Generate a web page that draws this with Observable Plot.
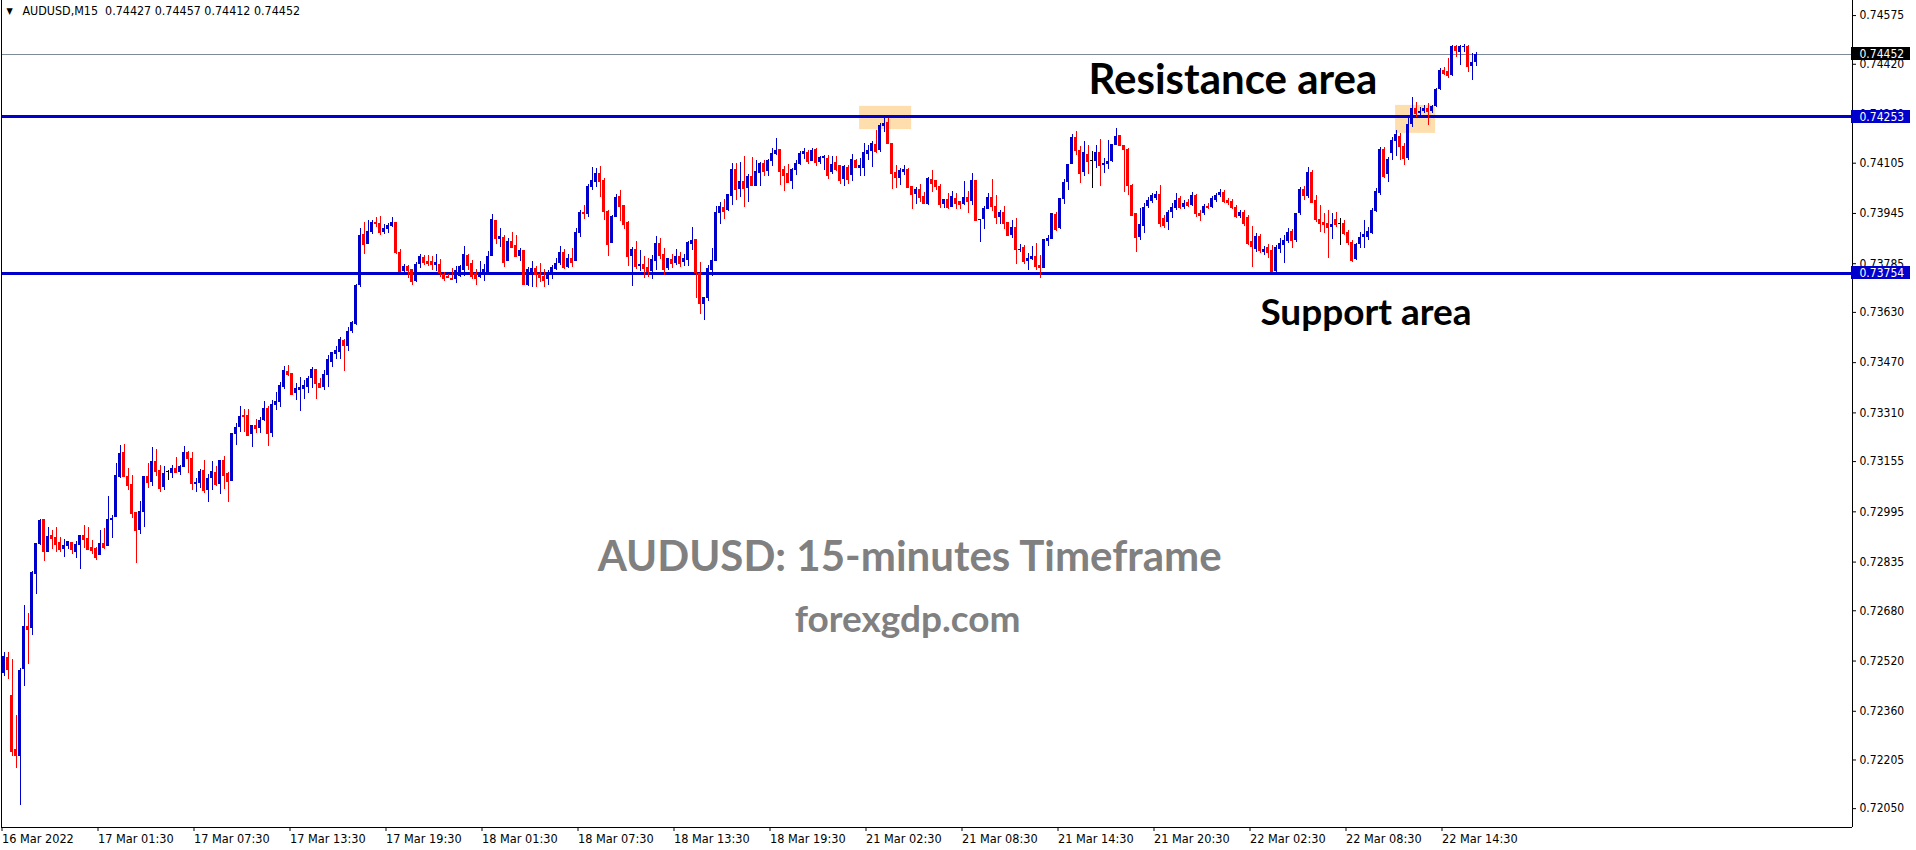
<!DOCTYPE html>
<html>
<head>
<meta charset="utf-8">
<script src="https://cdn.jsdelivr.net/npm/d3@7"></script>
<script src="https://cdn.jsdelivr.net/npm/@observablehq/plot@0.6"></script>
<style>
  html, body { margin: 0; padding: 0; background: #fff; overflow: hidden; }
  #chart svg { display: block; }
</style>
</head>
<body>
<div id="chart"></div>
<script>
// AUDUSD M15 candles, prices in points (price × 100000), oldest first
const open = [
72480,72531,72410,72238,72216,72493,72630,72624,72795,72891,
72970,72866,72919,72913,72898,72875,72885,72898,72866,72888,
72919,72910,72882,72879,72856,72894,72885,72966,72977,73105,
73184,73108,73082,72993,72935,72993,73108,73089,73155,73127,
73073,73124,73117,73133,73121,73136,73184,73165,73082,73085,
73127,73063,73102,73121,73082,73158,73117,73092,73241,73264,
73302,73302,73241,73270,73261,73286,73324,73244,73333,73343,
73391,73442,73435,73371,73381,73384,73391,73420,73448,73403,
73391,73429,73471,73496,73503,73540,73521,73569,73591,73715,
73878,73846,73885,73917,73913,73885,73894,73904,73917,73821,
73760,73776,73766,73728,73782,73805,73792,73792,73779,73782,
73750,73744,73738,73734,73744,73763,73811,73786,73753,73741,
73753,73757,73808,73923,73862,73869,73792,73856,73843,73808,
73827,73715,73757,73770,73750,73744,73734,73750,73766,73786,
73821,73773,73802,73792,73881,73948,73941,74028,74044,74072,
74050,73951,73849,73932,73999,73970,73917,73808,73830,73776,
73782,73773,73760,73792,73849,73814,73770,73798,73786,73808,
73789,73795,73846,73862,73753,73655,73674,73763,73792,73944,
73964,73954,73999,74085,74021,74047,74025,74063,74031,74072,
74104,74079,74111,74132,74148,74085,74072,74047,74082,74101,
74132,74139,74111,74148,74108,74120,74120,74076,74108,74098,
74053,74092,74066,74114,74089,74089,74132,74142,74164,74145,
74222,74235,74167,74076,74057,74076,74085,74031,74005,74021,
73999,73973,74053,74050,74031,73973,73989,73964,73993,73983,
73973,73996,73983,74050,73923,73925,73958,73996,73967,73932,
73948,73917,73875,73901,73827,73837,73792,73798,73808,73779,
73770,73856,73862,73941,73898,73989,74044,74101,74187,74145,
74076,74132,74114,74111,74139,74098,74101,74111,74161,74193,
74161,74148,74034,73944,73869,73904,73967,73983,73993,74005,
73929,73917,73948,73961,73993,73964,73980,73970,74002,73944,
73944,73967,73964,73986,74002,74012,73986,73983,73964,73935,
73948,73932,73856,73830,73872,73821,73837,73827,73760,73830,
73843,73856,73888,73859,73944,74021,73999,74076,73986,73925,
73917,73913,73901,73925,73913,73913,73885,73853,73798,73846,
73869,73869,73881,73951,74009,74148,74069,74136,74174,74190,
74158,74120,74228,74280,74264,74270,74280,74270,74286,74340,
74400,74397,74384,74477,74458,74473,74477,74413,74427];
const high = [
72547,72547,72524,72347,72497,72697,72671,72805,72894,72970,
72970,72944,72937,72944,72913,72906,72901,72898,72901,72919,
72950,72944,72904,72882,72935,72941,73044,72983,73148,73206,
73209,73133,73111,72993,73028,73108,73148,73200,73193,73142,
73139,73127,73142,73168,73142,73203,73187,73184,73102,73129,
73158,73114,73155,73139,73158,73171,73121,73244,73276,73330,
73320,73320,73270,73289,73296,73346,73330,73349,73375,73407,
73458,73461,73435,73403,73423,73413,73426,73455,73448,73420,
73445,73493,73503,73521,73550,73543,73582,73601,73718,73898,
73917,73923,73923,73932,73935,73910,73913,73932,73917,73830,
73782,73779,73766,73789,73814,73811,73811,73808,73814,73798,
73757,73750,73770,73776,73779,73840,73814,73795,73766,73792,
73782,73824,73941,73923,73898,73875,73866,73885,73875,73834,
73827,73773,73792,73776,73786,73766,73763,73779,73802,73840,
73830,73814,73834,73898,73954,73970,74037,74092,74089,74095,
74057,73954,73938,74005,74018,73970,73920,73837,73856,73827,
73808,73802,73811,73872,73866,73834,73802,73814,73830,73821,
73814,73856,73901,73862,73789,73677,73779,73834,73967,73980,
73989,74005,74104,74104,74108,74126,74069,74123,74114,74108,
74114,74117,74152,74184,74148,74095,74101,74089,74114,74142,
74152,74145,74152,74152,74126,74129,74129,74126,74126,74098,
74098,74098,74132,74117,74120,74167,74161,74174,74209,74231,
74248,74248,74167,74098,74089,74098,74089,74031,74028,74037,
74012,74060,74082,74050,74037,73989,74009,74015,74009,73983,
74047,74015,74072,74050,73925,73967,74009,74053,74002,73954,
73967,73917,73923,73929,73846,73843,73818,73840,73849,73811,
73862,73875,73944,73948,73993,74053,74101,74196,74206,74158,
74174,74161,74142,74161,74180,74120,74177,74164,74216,74193,
74161,74152,74037,73944,73961,73976,73996,74009,74015,74034,
73938,73954,73976,74009,73999,73986,73989,74012,74005,73954,
73973,73976,73999,74009,74021,74018,73993,73989,73970,73954,
73954,73938,73904,73881,73878,73840,73846,73843,73843,73866,
73875,73898,73894,73944,74028,74031,74092,74082,74002,73970,
73944,73954,73944,73948,73929,73923,73891,73859,73849,73885,
73923,73901,73961,74025,74155,74155,74123,74187,74209,74199,
74167,74248,74314,74299,74283,74289,74296,74289,74343,74407,
74410,74438,74480,74480,74480,74483,74480,74454,74457];
const low = [
72471,72461,72216,72178,72060,72439,72509,72601,72731,72888,
72837,72866,72875,72866,72866,72850,72875,72859,72847,72811,
72879,72872,72859,72840,72856,72875,72885,72910,72977,73102,
73108,73063,72974,72830,72922,72944,73070,73076,73108,73057,
73063,73095,73102,73117,73111,73136,73117,73063,73057,73070,
73053,73025,73063,73076,73050,73066,73025,73092,73206,73248,
73248,73238,73200,73244,73244,73283,73203,73232,73318,73327,
73384,73426,73368,73349,73315,73352,73371,73388,73352,73388,
73381,73391,73455,73480,73480,73442,73506,73562,73588,73709,
73814,73846,73878,73901,73875,73878,73881,73901,73814,73757,
73757,73738,73715,73725,73770,73779,73776,73763,73760,73741,
73728,73738,73734,73721,73741,73744,73763,73734,73715,73738,
73728,73757,73808,73846,73837,73773,73792,73834,73805,73792,
73715,73712,73709,73709,73725,73709,73715,73734,73763,73779,
73766,73770,73773,73792,73869,73925,73932,74018,74028,73996,
73923,73808,73849,73932,73920,73894,73776,73712,73766,73760,
73738,73741,73734,73763,73798,73747,73763,73770,73779,73773,
73776,73776,73827,73674,73623,73604,73665,73744,73792,73910,
73925,73951,73970,73986,73996,73964,73980,74031,74031,74031,
74063,74063,74095,74129,74034,74015,74044,74021,74066,74098,
74117,74101,74111,74095,74101,74082,74053,74069,74079,74037,
74031,74037,74047,74089,74063,74063,74114,74092,74136,74139,
74203,74167,74021,74025,74034,74066,74028,73958,73973,73980,
73973,73970,74012,74018,73961,73961,73958,73964,73958,73958,
73970,73944,73970,73923,73853,73894,73958,73951,73910,73910,
73894,73875,73866,73782,73821,73782,73763,73795,73763,73738,
73770,73840,73862,73888,73894,73973,74018,74101,74129,74041,
74063,74069,74025,74089,74031,74072,74085,74108,74161,74158,
74012,74002,73938,73821,73859,73881,73961,73976,73986,73901,
73898,73891,73929,73954,73958,73958,73964,73967,73932,73920,
73938,73958,73961,73980,73996,73976,73970,73958,73929,73929,
73904,73843,73773,73821,73818,73811,73802,73757,73753,73818,
73786,73849,73834,73853,73938,73986,73993,73976,73917,73885,
73881,73802,73862,73901,73843,73875,73843,73789,73795,73834,
73834,73859,73878,73948,74002,74057,74044,74114,74126,74114,
74098,74114,74219,74251,74257,74264,74225,74264,74283,74336,
74384,74375,74381,74442,74416,74458,74394,74368,74412];
const close = [
72534,72493,72232,72219,72490,72630,72620,72802,72894,72966,
72869,72916,72910,72891,72875,72888,72901,72875,72891,72919,
72906,72875,72872,72850,72894,72882,72970,72974,73111,73180,
73108,73079,72989,72935,72996,73108,73089,73155,73124,73070,
73117,73124,73133,73121,73139,73184,73165,73085,73089,73124,
73063,73102,73124,73082,73158,73111,73092,73244,73264,73299,
73299,73238,73270,73261,73286,73324,73244,73336,73346,73397,
73445,73432,73368,73388,73391,73397,73420,73448,73403,73391,
73432,73480,73503,73509,73543,73524,73569,73598,73715,73875,
73846,73888,73917,73913,73885,73898,73907,73917,73821,73760,
73776,73763,73728,73782,73808,73789,73786,73782,73789,73757,
73738,73741,73734,73763,73776,73814,73779,73744,73738,73753,
73766,73808,73925,73866,73872,73789,73856,73837,73808,73827,
73718,73766,73770,73750,73741,73731,73750,73773,73786,73821,
73773,73802,73789,73885,73948,73944,74031,74050,74072,74047,
73951,73846,73935,73996,73967,73910,73808,73830,73776,73782,
73770,73760,73798,73849,73811,73766,73802,73786,73808,73786,
73802,73853,73859,73757,73658,73677,73770,73795,73948,73967,
73951,74005,74085,74021,74047,74025,74063,74034,74079,74104,
74079,74114,74136,74145,74079,74066,74044,74085,74104,74136,
74142,74111,74145,74108,74123,74126,74066,74101,74085,74050,
74095,74053,74117,74092,74098,74139,74145,74167,74142,74225,
74231,74167,74072,74060,74082,74085,74028,74005,74021,73996,
73976,74057,74041,74031,73973,73989,73964,73999,73976,73973,
73996,73983,74050,73923,73925,73961,73996,73967,73932,73948,
73913,73875,73901,73830,73830,73792,73802,73808,73776,73773,
73862,73866,73944,73894,73993,74044,74101,74187,74145,74072,
74139,74111,74114,74139,74098,74104,74111,74164,74190,74161,
74148,74034,73938,73869,73910,73964,73986,74002,74005,73913,
73907,73948,73964,73986,73964,73976,73970,74002,73944,73938,
73967,73964,73993,74002,74012,73983,73980,73964,73935,73948,
73913,73849,73840,73872,73827,73830,73821,73760,73837,73849,
73859,73885,73859,73944,74021,74002,74076,73980,73925,73913,
73910,73901,73910,73910,73913,73881,73853,73795,73846,73869,
73878,73888,73954,74015,74148,74063,74117,74177,74196,74158,
74120,74228,74280,74264,74270,74280,74270,74286,74340,74400,
74391,74384,74477,74464,74477,74477,74413,74426,74452];

// time-axis labels, one every 24 bars (6 hours)
const timeLabels = ["16 Mar 2022","17 Mar 01:30","17 Mar 07:30","17 Mar 13:30","17 Mar 19:30",
  "18 Mar 01:30","18 Mar 07:30","18 Mar 13:30","18 Mar 19:30","21 Mar 02:30","21 Mar 08:30",
  "21 Mar 14:30","21 Mar 20:30","22 Mar 02:30","22 Mar 08:30","22 Mar 14:30"];
const timeTickBars = [0,24,48,72,96,120,144,168,192,216,240,264,288,312,336,360];
// price-axis labels
const priceTicks = [0.74575,0.74420,0.74260,0.74105,0.73945,0.73785,0.73630,0.73470,0.73310,
  0.73155,0.72995,0.72835,0.72680,0.72520,0.72360,0.72205,0.72050];
// horizontal levels
const resistance = 0.74253;
const support = 0.73754;
// highlighted zones (bar index range, price range)
const zoneBarStart = [213.9, 347.9];
const zoneBarEnd = [226.9, 357.9];
const zoneLow = [0.74212, 0.74200];
const zoneHigh = [0.74286, 0.74289];
// annotations (bar index, price)
const noteText = ["Resistance area", "Support area", "AUDUSD: 15-minutes Timeframe", "forexgdp.com"];
const noteBar = [271.1, 314.1, 226.4, 225.9];
const notePrice = [0.74368, 0.73628, 0.72848, 0.72649];
const noteSize = [42, 37, 42, 37];

// ---------- build ----------
const BLUE = "#0000cd", RED = "#ff0000", BLACK = "#000000";
const candles = open.map((o, i) => ({i, o: o / 1e5, h: high[i] / 1e5, l: low[i] / 1e5, c: close[i] / 1e5}));
const col = d => d.c > d.o ? BLUE : d.c < d.o ? RED : BLACK;
const last = candles[candles.length - 1];
const xDomain = [-0.625, 462.125];
const yDomain = [0.71990, 0.74623];
const zones = zoneBarStart.map((s, k) => ({x1: s, x2: zoneBarEnd[k], y1: zoneLow[k], y2: zoneHigh[k]}));
const boxes = [
  {price: last.c, fill: BLACK},
  {price: resistance, fill: BLUE},
  {price: support, fill: BLUE}
];
const notes = noteText.map((t, k) => ({t, x: noteBar[k], y: notePrice[k], s: noteSize[k]}));
const header = `AUDUSD,M15\u00a0\u00a0${last.o.toFixed(5)} ${last.h.toFixed(5)} ${last.l.toFixed(5)} ${last.c.toFixed(5)}`;
const AX = "'DejaVu Sans Condensed', 'DejaVu Sans', sans-serif";

const chart = Plot.plot({
  width: 1916, height: 850,
  marginLeft: 1, marginRight: 64, marginTop: 0, marginBottom: 23,
  style: {background: "#ffffff", color: "#000000", fontFamily: AX, fontSize: "12px"},
  x: {domain: xDomain, axis: null},
  y: {domain: yDomain, axis: null},
  marks: [
    Plot.rect(zones, {x1: "x1", x2: "x2", y1: "y1", y2: "y2", fill: "#ffdead"}),
    Plot.ruleY([last.c], {stroke: "#7f8a99", strokeWidth: 1, shapeRendering: "crispEdges"}),
    Plot.ruleY([resistance, support], {stroke: BLUE, strokeWidth: 3, shapeRendering: "crispEdges"}),
    // wicks
    Plot.ruleX(candles, {x: "i", y1: d => Math.min(d.l, d.o, d.c), y2: d => Math.max(d.h, d.o, d.c),
      stroke: col, strokeWidth: 1, shapeRendering: "crispEdges"}),
    // bodies
    Plot.rect(candles, {x1: d => d.i - 0.375, x2: d => d.i + 0.375, y1: "o", y2: "c",
      fill: col, shapeRendering: "crispEdges"}),
    Plot.ruleY(candles, {y: "c", x1: d => d.i - 0.375, x2: d => d.i + 0.375,
      stroke: col, strokeWidth: 1, shapeRendering: "crispEdges"}),
    // frame
    Plot.ruleX([xDomain[0], xDomain[1]], {stroke: BLACK, strokeWidth: 1, shapeRendering: "crispEdges"}),
    Plot.ruleY([yDomain[0]], {stroke: BLACK, strokeWidth: 1, shapeRendering: "crispEdges"}),
    // axes
    Plot.axisY({anchor: "right", ticks: priceTicks, tickFormat: d => d.toFixed(5), tickSize: 3,
      tickPadding: 4, label: null, fontSize: 12}),
    Plot.axisX({ticks: timeTickBars, tickFormat: d => timeLabels[timeTickBars.indexOf(d)],
      tickSize: 4, tickPadding: 3, textAnchor: "start", dx: -2, label: null, fontSize: 12.6}),
    // price boxes on the axis
    Plot.rect(boxes, {x1: xDomain[1], x2: xDomain[1], y1: "price", y2: "price", fill: "fill",
      insetLeft: -1, insetRight: -58, insetTop: -6.5, insetBottom: -6.5, shapeRendering: "crispEdges"}),
    Plot.text(boxes, {x: xDomain[1], y: "price", text: d => d.price.toFixed(5), dx: 7,
      textAnchor: "start", fill: "#ffffff", fontSize: 12}),
    // header
    Plot.text(["\u25BC"], {frameAnchor: "top-left", dx: 5, dy: 7, textAnchor: "start", lineAnchor: "top",
      fontSize: 9, fill: BLACK}),
    Plot.text([header], {frameAnchor: "top-left", dx: 21, dy: 6, textAnchor: "start", lineAnchor: "top",
      fontSize: 12.4, fontFamily: AX, fill: BLACK}),
    // annotations
    Plot.text(notes.slice(0, 2), {x: "x", y: "y", text: "t", textAnchor: "start", fontFamily: "Lato",
      fontWeight: "bold", fontSize: d => d.s, fill: BLACK}),
    Plot.text(notes.slice(2, 4), {x: "x", y: "y", text: "t", textAnchor: "middle", fontFamily: "Lato",
      fontWeight: "bold", fontSize: d => d.s, fill: "#808080"})
  ]
});
document.getElementById("chart").appendChild(chart);
</script>
</body>
</html>
